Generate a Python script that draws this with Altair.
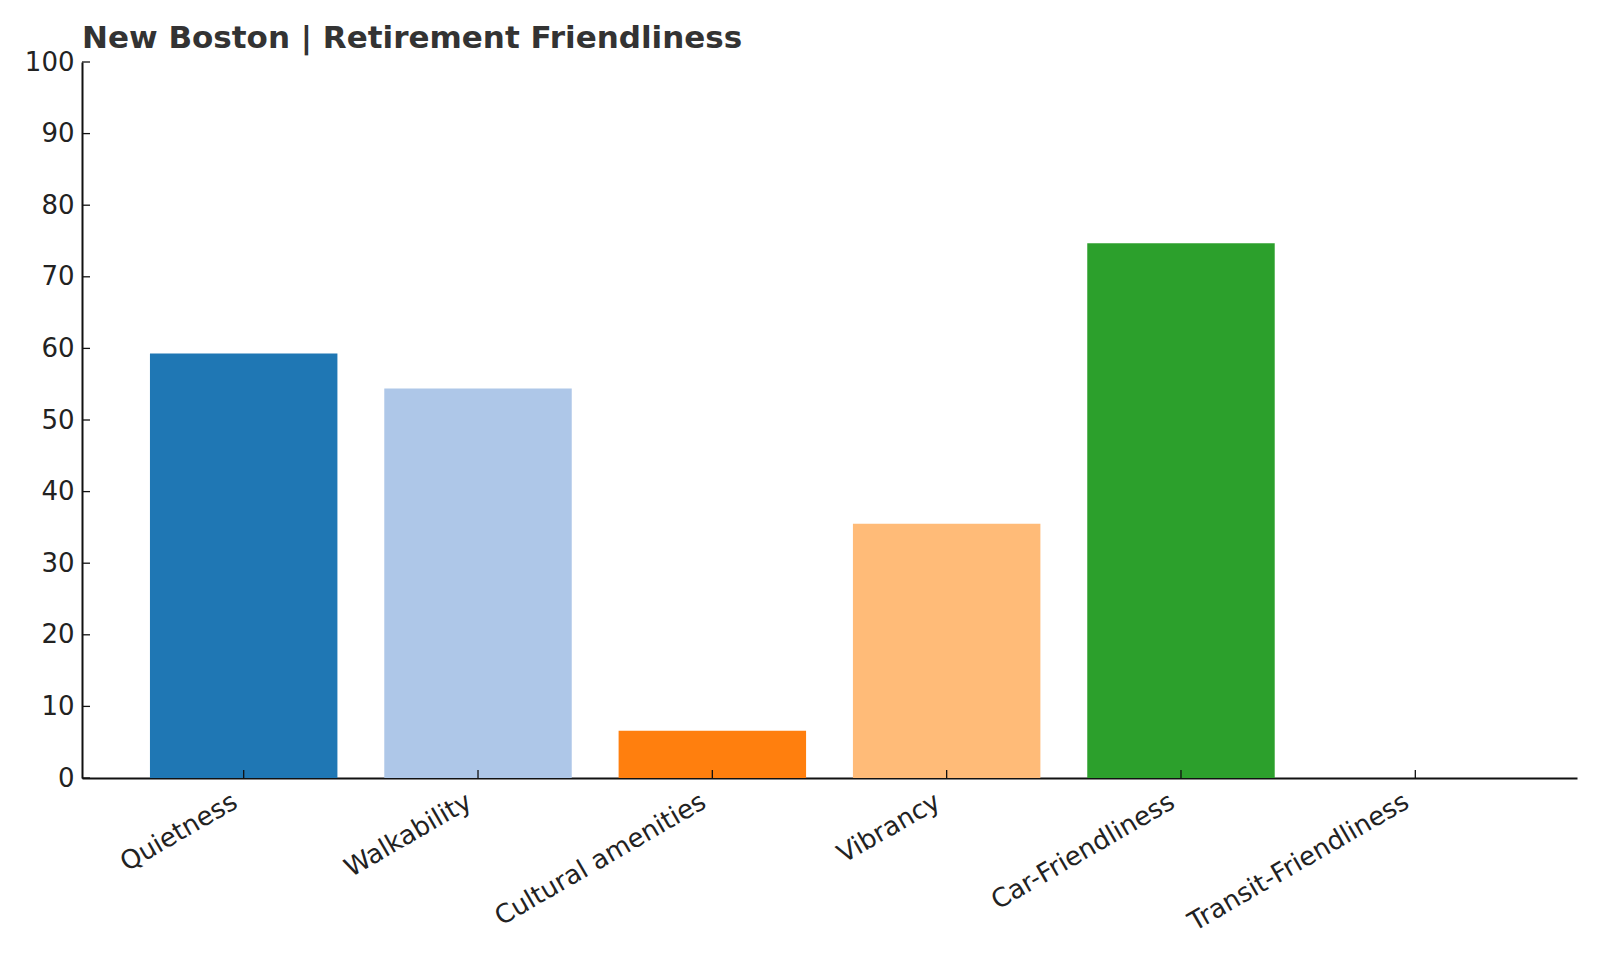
import altair as alt
import pandas as pd

categories = ["Quietness", "Walkability", "Cultural amenities", "Vibrancy",
              "Car-Friendliness", "Transit-Friendliness"]
scores = [59.3, 54.4, 6.6, 35.5, 74.7, 0.0]
colors = ["#1f77b4", "#aec7e8", "#ff7f0e", "#ffbb78", "#2ca02c", "#98df8a"]
y_ticks = list(range(0, 101, 10))
title_text = "New Boston | Retirement Friendliness"

df = pd.DataFrame({"category": categories, "score": scores})
tick_df = pd.DataFrame({"t": y_ticks})

W, H = 1495, 716
FONT = "DejaVu Sans"

xscale = alt.Scale(domain=categories, paddingInner=0.2, paddingOuter=0.29)
yscale = alt.Scale(domain=[0, 100], nice=False, zero=True)

x_axis = alt.Axis(title=None, labelAngle=-30, labelAlign="right",
                  labelBaseline="top", labelFontSize=26, labelPadding=10,
                  labelOffset=-15,
                  labelFont=FONT, labelColor="#222", labelLimit=0,
                  labelOverlap=False, ticks=False, domainColor="#111",
                  domainWidth=2, grid=False)
y_axis = alt.Axis(title=None, values=y_ticks, ticks=False, labelFontSize=26,
                  labelPadding=8, labelFont=FONT, labelColor="#222",
                  labelFlush=False, labelOverlap=False, domainColor="#111",
                  domainWidth=2, grid=False)

bars = alt.Chart(df).mark_bar().encode(
    x=alt.X("category:N", sort=categories, scale=xscale, axis=x_axis),
    y=alt.Y("score:Q", scale=yscale, axis=y_axis),
    color=alt.Color("category:N", scale=alt.Scale(domain=categories, range=colors),
                    legend=None),
)

xticks = alt.Chart(df).mark_rule(color="#111", strokeWidth=1.3).encode(
    x=alt.X("category:N", sort=categories, scale=xscale, axis=x_axis),
    y=alt.value(H),
    y2=alt.value(H - 8),
)

yticks = alt.Chart(tick_df).mark_rule(color="#111", strokeWidth=1.3).encode(
    y=alt.Y("t:Q", scale=yscale, axis=y_axis),
    x=alt.value(0),
    x2=alt.value(8),
)

chart = alt.layer(bars, xticks, yticks).properties(
    width=W, height=H,
    title=alt.TitleParams(title_text, anchor="start", frame="group", fontSize=31,
                          fontWeight="bold", color="#333", font=FONT, offset=-6),
    autosize=alt.AutoSizeParams(type="none"),
    padding={"left": 74, "top": 54, "right": 15, "bottom": 170},
    background="white",
).configure_view(stroke=None)

chart.save("out.html", embed_options={"renderer": "svg", "actions": False})
